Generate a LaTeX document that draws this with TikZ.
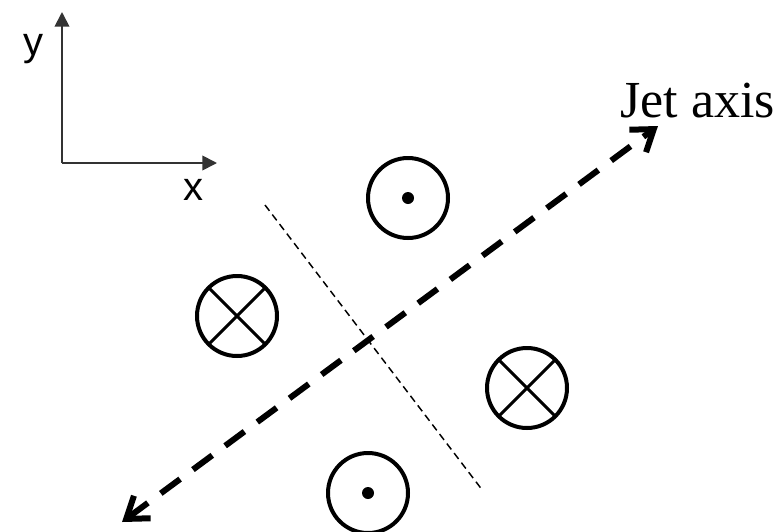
\documentclass[tikz,border=0pt]{standalone}
\usepackage{fontspec}
\setmainfont{Liberation Serif}
\setsansfont{Liberation Sans}
\usetikzlibrary{arrows.meta,positioning}
\tikzset{
  field/.style={draw, circle, line width=3pt, minimum size=60pt, inner sep=0pt},
  outof/.style={field, path picture={\fill (path picture bounding box.center) circle (4.5pt);}},
  into/.style={field, path picture={
      \draw[line width=2.2pt] (path picture bounding box.north west) -- (path picture bounding box.south east);
      \draw[line width=2.2pt] (path picture bounding box.north east) -- (path picture bounding box.south west);}},
  axis/.style={-{Triangle[length=11pt, width=11pt]}, line width=1.3pt, black!80},
  jet/.style={{Straight Barb[length=15pt, width=21pt]}-{Straight Barb[length=15pt, width=21pt]},
              line width=4.5pt, dash pattern=on 18pt off 12pt},
  plane/.style={line width=1.1pt, dash pattern=on 5.5pt off 3.5pt},
  lbl/.style={font=\sffamily\fontsize{30}{30}\selectfont, inner sep=0pt, anchor=base},
}

\begin{document}
\begin{tikzpicture}[x=0.75pt, y=-0.75pt]
  \useasboundingbox (0,0) rectangle (782,532);

  % reference axes
  \coordinate (origin) at (62,163);
  \coordinate (yend) at (62,12);
  \coordinate (xend) at (217,163);
  \draw[axis] (origin) -- (yend);
  \draw[axis] (origin) -- (xend);
  \node[lbl] (ylbl) at (33,55) {y};
  \node[lbl] (xlbl) at (193,200) {x};

  % jet axis and the plane across it
  \coordinate (jetlo) at (122,522);
  \coordinate (jethi) at (658,126);
  \draw[jet] (jetlo) -- (jethi);
  \node[font=\fontsize{39}{39}\selectfont, inner sep=0pt, anchor=base west] (jetlbl) at (620,117) {Jet axis};

  \coordinate (planetop) at (265,205);
  \coordinate (planebot) at (483,491);
  \draw[plane] (planetop) -- (planebot);

  % field directions
  \node[outof] (dottop) at (408,198) {};
  \node[outof] (dotbot) at (368,493) {};
  \node[into] (crossl) at (237,316) {};
  \node[into] (crossr) at (527,388) {};
\end{tikzpicture}
\end{document}
